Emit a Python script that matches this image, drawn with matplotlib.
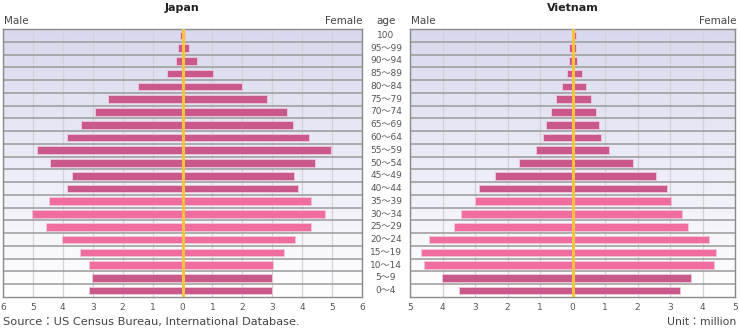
import numpy as np
import matplotlib
matplotlib.use("Agg")
import matplotlib.pyplot as plt
from matplotlib import transforms
from matplotlib.colors import LinearSegmentedColormap

plt.rcParams['font.family'] = ['DejaVu Sans', 'Noto Sans CJK JP']

# Age groups from youngest (bottom) to oldest (top)
ages = ['0〜4', '5〜9', '10〜14', '15〜19', '20〜24', '25〜29', '30〜34', '35〜39',
        '40〜44', '45〜49', '50〜54', '55〜59', '60〜64', '65〜69', '70〜74',
        '75〜79', '80〜84', '85〜89', '90〜94', '95〜99', '100']

# Population in millions
japan_male = [3.14, 3.03, 3.13, 3.43, 4.02, 4.57, 5.04, 4.45, 3.86, 3.71, 4.44,
              4.88, 3.85, 3.40, 2.91, 2.50, 1.50, 0.52, 0.23, 0.15, 0.07]
japan_female = [2.98, 2.98, 3.04, 3.39, 3.76, 4.28, 4.76, 4.31, 3.87, 3.72, 4.42,
                4.98, 4.22, 3.70, 3.48, 2.83, 2.00, 1.02, 0.50, 0.21, 0.10]
vietnam_male = [3.48, 4.01, 4.57, 4.66, 4.41, 3.64, 3.42, 3.00, 2.88, 2.39, 1.64,
                1.13, 0.91, 0.82, 0.65, 0.51, 0.32, 0.16, 0.11, 0.10, 0.02]
vietnam_female = [3.32, 3.66, 4.34, 4.40, 4.19, 3.56, 3.36, 3.02, 2.90, 2.58, 1.86,
                  1.11, 0.88, 0.82, 0.71, 0.57, 0.43, 0.30, 0.14, 0.11, 0.11]

japan_ticks = [-6, -5, -4, -3, -2, -1, 0, 1, 2, 3, 4, 5, 6]
vietnam_ticks = [-5, -4, -3, -2, -1, 0, 1, 2, 3, 4, 5]

DARK = '#c9588b'
BRIGHT = '#f06da0'
bright_ages = {'10〜14', '15〜19', '20〜24', '25〜29', '30〜34', '35〜39'}

W, H = 740, 332
fig = plt.figure(figsize=(W / 100, H / 100), dpi=100)

bg_cmap = LinearSegmentedColormap.from_list('bg', ['#ffffff', '#d8d9ee'])


def make_axes(x0, x1, lim, ticks, male, female, title):
    top, bottom = 29, 297
    ax = fig.add_axes([x0 / W, 1 - bottom / H, (x1 - x0) / W, (bottom - top) / H])
    n = len(ages)
    y = np.arange(n)
    ax.set_xlim(-lim, lim)
    ax.set_ylim(-0.5, n - 0.5)
    grad = np.linspace(0, 1, 256).reshape(-1, 1)
    ax.imshow(grad, cmap=bg_cmap, aspect='auto', origin='lower',
              extent=[-lim, lim, -0.5, n - 0.5], zorder=0)
    for t in ticks:
        ax.axvline(t, color='#d2d2d8', lw=0.9, zorder=1)
    for b in np.arange(0.5, n - 0.5, 1):
        ax.axhline(b, color='#9a9a9a', lw=1.1, zorder=1)
    colors = [BRIGHT if a in bright_ages else DARK for a in ages]
    ax.barh(y, -np.array(male), height=0.6, color=colors, edgecolor='#f0c8da',
            linewidth=0.6, zorder=3)
    ax.barh(y, np.array(female), height=0.6, color=colors, edgecolor='#f0c8da',
            linewidth=0.6, zorder=3)
    ax.axvline(0, color='#f7c33c', lw=2.2, zorder=5)
    ax.set_xticks(ticks)
    ax.set_xticklabels([str(abs(t)) for t in ticks])
    ax.set_yticks([])
    ax.tick_params(axis='x', length=0, pad=4, labelsize=6.5, labelcolor='#555555')
    for s in ax.spines.values():
        s.set_color('#8a8a8a')
        s.set_linewidth(1.0)
    xc = (x0 + x1) / 2
    fig.text(xc / W, 1 - 8 / H, title, ha='center', va='center', fontsize=8,
             fontweight='bold', color='#222222')
    fig.text((x0 + 1) / W, 1 - 21 / H, 'Male', ha='left', va='center', fontsize=7.5,
             color='#444444')
    fig.text((x1 + 1) / W, 1 - 21 / H, 'Female', ha='right', va='center', fontsize=7.5,
             color='#444444')
    return ax


axj = make_axes(3, 362, 6, japan_ticks, japan_male, japan_female, 'Japan')
axv = make_axes(410, 735, 5, vietnam_ticks, vietnam_male, vietnam_female, 'Vietnam')

tr = transforms.blended_transform_factory(fig.transFigure, axj.transData)
for i, a in enumerate(ages):
    fig.text(386 / W, i, a, transform=tr, ha='center', va='center', fontsize=6.5,
             color='#555555')
fig.text(386 / W, 1 - 21 / H, 'age', ha='center', va='center', fontsize=7.5,
         color='#444444')

fig.text(3 / W, 1 - 322 / H, 'Source：US Census Bureau, International Database.',
         ha='left', va='center', fontsize=8.2, color='#444444')
fig.text(736 / W, 1 - 322 / H, 'Unit：million', ha='right', va='center',
         fontsize=7.8, color='#444444')

fig.savefig('out.png', dpi=100)
